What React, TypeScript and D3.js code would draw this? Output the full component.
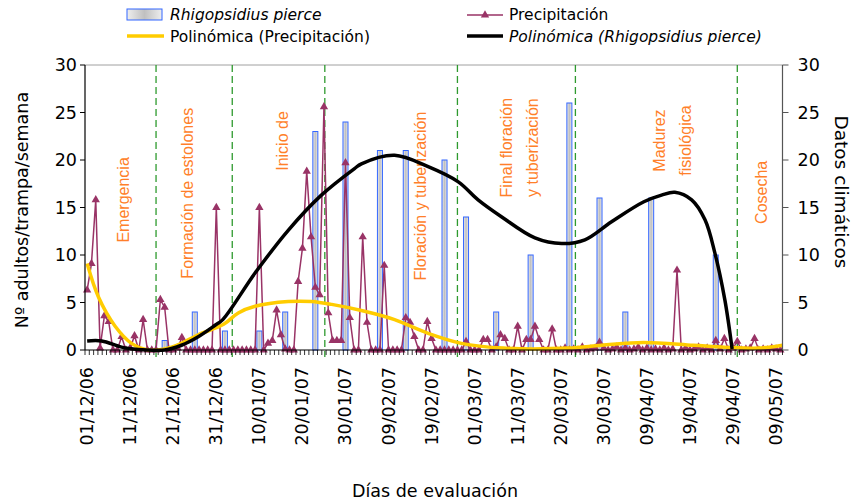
import React from "react";
import * as d3 from "d3";

const W = 864;
const H = 503;

// daily categories of the evaluation (index 0 = 01/12/06)
const nDays = 162;
const tickEvery = 10;
const tickLabels = [
  "01/12/06", "11/12/06", "21/12/06", "31/12/06", "10/01/07", "20/01/07",
  "30/01/07", "09/02/07", "19/02/07", "01/03/07", "11/03/07", "20/03/07",
  "30/03/07", "09/04/07", "19/04/07", "29/04/07", "09/05/07",
];
const yTicks = [0, 5, 10, 15, 20, 25, 30];

// Precipitación (daily)
const precip = [
  6.3, 9.1, 15.8, 0.2, 3.6, 3.0, 0, 0, 1.4, 0,
  0.2, 1.5, 0, 3.2, 0, 0, 0, 5.3, 4.5, 0,
  0, 0.2, 1.3, 0, 0, 0, 0, 0, 0, 0,
  15.0, 0, 0, 0, 0, 0, 0, 0, 0, 0,
  15.0, 0, 0.7, 1.0, 4.2, 1.6, 0.1, 0, 0, 7.2,
  10.7, 18.8, 11.9, 6.6, 5.8, 25.6, 3.9, 1.0, 1.0, 1.0,
  19.7, 3.4, 0, 0, 11.9, 2.9, 0, 0, 0, 8.9,
  0, 0, 0, 0, 3.4, 2.9, 1.4, 0, 0, 3.0,
  1.2, 0, 0, 0, 0, 0, 0, 0, 0.9, 0,
  0, 0, 1.1, 1.1, 0, 0.3, 1.6, 1.2, 0, 0,
  2.5, 0, 1.1, 1.1, 2.5, 1.1, 0, 0, 2.2, 0,
  0, 0.2, 0, 0.1, 0, 0.3, 0, 0.1, 0.2, 0.8,
  0.2, 0, 0.1, 0.3, 0, 0.2, 0, 0.1, 0.3, 0,
  0.2, 0, 0.1, 0, 0.2, 0, 0.1, 8.4, 0, 0.2,
  0, 0.1, 0.3, 0, 0.2, 0, 1.0, 0.1, 1.2, 0,
  0.2, 0.9, 0, 0.1, 0.2, 1.2, 0, 0.1, 0, 0.2,
  0.1, 0,
];

// Rhigopsidius pierce (adults/trap/week)
const barDays = [18, 25, 32, 40, 46, 53, 60, 68, 74, 83, 88, 95, 103, 112, 119, 125, 131, 146];
const barValues = [1, 4, 2, 2, 4, 23, 24, 21, 21, 20, 14, 4, 10, 26, 16, 4, 16, 10];

// Polinómica (Rhigopsidius pierce)
const trendPestDays = [0, 3.4, 8, 11.9, 14.2, 18, 21.9, 25.8, 29.7, 31.5, 39, 46.7, 54.4, 62.1, 63.7, 71.4, 79.2, 86.2, 90.8, 96.3, 104, 110.2, 115.6, 121.8, 129.3, 133.4, 136.5, 140.4, 143.5, 145.8, 148.1, 149.8];
const trendPestValues = [0.95, 0.95, 0.3, 0.05, 0, 0, 0.5, 1.4, 2.6, 3.2, 8.1, 12.6, 16.3, 19.1, 19.6, 20.5, 19.3, 17.7, 15.8, 14.0, 11.8, 11.2, 11.6, 13.5, 15.6, 16.3, 16.6, 15.8, 13.7, 10.2, 5.3, 0.1];

// Polinómica (Precipitación)
const trendPrecDays = [0, 2.6, 6.5, 10.3, 14.2, 16.5, 19.6, 21.9, 25.8, 31.7, 35.1, 39, 46.7, 52.1, 56.8, 64.2, 71.4, 79.2, 86.9, 96.7, 111.7, 119.5, 129.2, 140.8, 148.1, 155.9, 161.5];
const trendPrecValues = [9.1, 5.6, 2.5, 0.7, 0, 0, 0.3, 0.7, 1.6, 2.7, 3.9, 4.6, 5.1, 5.1, 4.8, 4.1, 3.2, 1.75, 0.7, 0.2, 0.2, 0.5, 0.8, 0.5, 0.3, 0.2, 0.5];

// phenological phases
const phaseBounds = [16, 33.7, 55.2, 86, 113.4, 151];
const phaseNames = [
  ["Emergencia"],
  ["Formación de estolones"],
  ["Inicio de"],
  ["Floración y tuberización"],
  ["Final floración", "y tuberización"],
  ["Madurez", "fisiológica"],
  ["Cosecha"],
];
const phaseDay = [8.5, 23.3, 45.4, 77.4, 100.3, 135.9, 156.6];
const phaseVal = [15.8, 16.5, 22.0, 16.2, 21.3, 22.05, 16.6];

export default function App() {
  const left = 85, right = 782.5, top = 65, bottom = 350;
  const x = d3.scaleLinear().domain([-0.5, nDays - 0.5]).range([left, right]);
  const y = d3.scaleLinear().domain([0, 30]).range([bottom, top]);

  const precipLine = d3.line<number>().x((_, i) => x(i)).y((d) => y(d))(precip) || "";
  const curveGen = d3
    .line<[number, number]>()
    .x((d) => x(d[0]))
    .y((d) => y(d[1]))
    .curve(d3.curveCatmullRom.alpha(0.5));
  const pestPath = curveGen(trendPestDays.map((d, i) => [d, trendPestValues[i]])) || "";
  const precPath = curveGen(trendPrecDays.map((d, i) => [d, trendPrecValues[i]])) || "";
  const tri = d3.symbol().type(d3.symbolTriangle).size(30)() || "";

  const font = "'DejaVu Sans', Verdana, sans-serif";
  const purple = "#993366";
  const barW = 5;

  const minorTicks = d3.range(nDays + 1).map((i) => x(i - 0.5));
  const majorIdx = tickLabels.map((_, i) => i * tickEvery);

  return (
    <svg width={W} height={H} style={{ position: "absolute", left: 0, top: 0, background: "#fff" }}
      fontFamily={font}>
      <defs>
        <linearGradient id="barFill" x1="0" x2="1" y1="0" y2="0">
          <stop offset="0" stopColor="#eeeeee" />
          <stop offset="0.5" stopColor="#c0c0c0" />
          <stop offset="1" stopColor="#eeeeee" />
        </linearGradient>
      </defs>
      <rect x={0} y={0} width={W} height={H} fill="#fff" />

      {/* top border */}
      <line x1={left} x2={right} y1={top} y2={top} stroke="#a0a0a0" strokeWidth={1} />

      {/* phase dashed lines */}
      {phaseBounds.map((d, i) => (
        <line key={"pb" + i} x1={x(d)} x2={x(d)} y1={top} y2={bottom + 7}
          stroke="#2e9a2e" strokeWidth={1.3} strokeDasharray="7,4" />
      ))}

      {/* phase labels */}
      {phaseNames.map((lines, i) =>
        lines.map((t, j) => {
          const cx = x(phaseDay[i]) + (j - (lines.length - 1) / 2) * 26;
          const cy = y(phaseVal[i]);
          return (
            <text key={"pl" + i + "_" + j} transform={`translate(${cx},${cy}) rotate(-90)`}
              textAnchor="middle" dominantBaseline="central" fontSize={16}
              fontFamily="'Liberation Sans', Arial, sans-serif" fill="#ff7f2a">
              {t}
            </text>
          );
        })
      )}

      {/* bars */}
      {barDays.map((d, i) => (
        <rect key={"b" + i} x={x(d) - barW / 2} y={y(barValues[i])} width={barW}
          height={y(0) - y(barValues[i])} fill="url(#barFill)" stroke="#3366ff" strokeWidth={1} />
      ))}

      {/* precipitation */}
      <path d={precipLine} fill="none" stroke={purple} strokeWidth={1.5} />
      {precip.map((v, i) => (
        <path key={"m" + i} d={tri} transform={`translate(${x(i)},${y(v)})`} fill={purple} />
      ))}

      {/* trend lines */}
      <path d={precPath} fill="none" stroke="#ffcc00" strokeWidth={3.5} />
      <path d={pestPath} fill="none" stroke="#000" strokeWidth={3.5} />

      {/* x axis */}
      <line x1={left} x2={right} y1={bottom} y2={bottom} stroke="#000" strokeWidth={1.2} />
      {minorTicks.map((tx, i) => (
        <line key={"mt" + i} x1={tx} x2={tx} y1={bottom} y2={bottom + 5} stroke="#000" strokeWidth={0.8} />
      ))}
      {majorIdx.map((d, i) => (
        <text key={"xl" + i} transform={`translate(${x(d)},${bottom + 17}) rotate(-90)`}
          textAnchor="end" dominantBaseline="central" fontSize={17.5} fill="#000">
          {tickLabels[i]}
        </text>
      ))}

      {/* left axis */}
      <line x1={left} x2={left} y1={top} y2={bottom} stroke="#000" strokeWidth={1.2} />
      {yTicks.map((t) => (
        <g key={"yl" + t}>
          <line x1={left - 5} x2={left} y1={y(t)} y2={y(t)} stroke="#000" />
          <text x={left - 8} y={y(t)} textAnchor="end" dominantBaseline="central" fontSize={17.5}>
            {t}
          </text>
        </g>
      ))}

      {/* right axis */}
      <line x1={right} x2={right} y1={top} y2={bottom} stroke="#555" strokeWidth={1.2} />
      {yTicks.map((t) => (
        <g key={"yr" + t}>
          <line x1={right} x2={right + 6} y1={y(t)} y2={y(t)} stroke="#555" />
          <text x={right + 15} y={y(t)} textAnchor="start" dominantBaseline="central" fontSize={17.5}>
            {t}
          </text>
        </g>
      ))}

      {/* axis titles */}
      <text transform={`translate(22,210) rotate(-90)`} textAnchor="middle"
        dominantBaseline="central" fontSize={17.5}>
        Nº adultos/trampa/semana
      </text>
      <text transform={`translate(841,192) rotate(90)`} textAnchor="middle"
        dominantBaseline="central" fontSize={18.5}>
        Datos climáticos
      </text>
      <text x={435} y={497} textAnchor="middle" fontSize={17.5}>
        Días de evaluación
      </text>

      {/* legend */}
      <rect x={127} y={9} width={35} height={11} fill="url(#barFill)" stroke="#3366ff" strokeWidth={1} />
      <text x={170} y={20} fontSize={15.5} fontStyle="italic">Rhigopsidius pierce</text>
      <line x1={127} x2={164} y1={36} y2={36} stroke="#ffcc00" strokeWidth={3.5} />
      <text x={170} y={42} fontSize={15.5}>Polinómica (Precipitación)</text>
      <line x1={467} x2={503} y1={15} y2={15} stroke={purple} strokeWidth={1.5} />
      <path d={tri} transform="translate(485,15)" fill={purple} />
      <text x={509} y={20} fontSize={15.5}>Precipitación</text>
      <line x1={467} x2={503} y1={36} y2={36} stroke="#000" strokeWidth={3.5} />
      <text x={509} y={42} fontSize={15.5} fontStyle="italic">Polinómica (Rhigopsidius pierce)</text>
    </svg>
  );
}
